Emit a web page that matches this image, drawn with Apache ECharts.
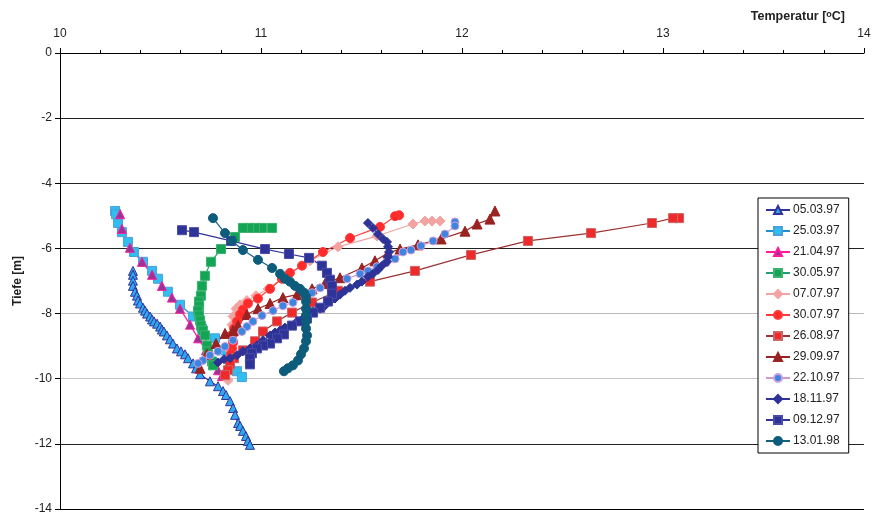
<!DOCTYPE html>
<html><head><meta charset="utf-8">
<script src="https://cdn.jsdelivr.net/npm/echarts@6/dist/echarts.min.js"></script>
<style>html,body{margin:0;padding:0;background:#fff}#c{width:874px;height:515px}</style>
</head><body><div id="c"></div>
<script>
// Temperature [°C], depth [m]
const s050397 = [[10.363,-6.69],[10.363,-6.81],[10.363,-6.99],[10.363,-7.15],[10.373,-7.33],[10.383,-7.45],[10.388,-7.60],[10.398,-7.69],[10.413,-7.82],[10.423,-7.91],[10.433,-8.00],[10.448,-8.09],[10.458,-8.18],[10.468,-8.24],[10.483,-8.31],[10.498,-8.40],[10.507,-8.49],[10.517,-8.55],[10.532,-8.67],[10.547,-8.79],[10.562,-8.92],[10.582,-9.07],[10.602,-9.16],[10.622,-9.25],[10.637,-9.37],[10.662,-9.53],[10.677,-9.68],[10.697,-9.86],[10.746,-10.08],[10.786,-10.23],[10.811,-10.38],[10.826,-10.50],[10.846,-10.69],[10.861,-10.90],[10.871,-11.11],[10.886,-11.36],[10.896,-11.45],[10.910,-11.60],[10.925,-11.76],[10.935,-11.91],[10.945,-12.03]];
const s250397 = [[10.274,-4.85],[10.279,-4.95],[10.289,-5.22],[10.308,-5.50],[10.338,-5.80],[10.368,-6.11],[10.413,-6.41],[10.458,-6.69],[10.488,-6.93],[10.537,-7.33],[10.597,-7.73],[10.662,-8.09],[10.706,-8.46],[10.771,-8.76],[10.806,-9.13],[10.846,-9.53],[10.881,-9.77],[10.905,-9.95]];
const s210497 = [[10.299,-4.95],[10.308,-5.40],[10.348,-5.98],[10.408,-6.41],[10.458,-6.81],[10.507,-7.15],[10.557,-7.51],[10.597,-7.85],[10.647,-8.34],[10.687,-8.76],[10.726,-9.13],[10.756,-9.44],[10.786,-9.74],[10.806,-9.92]];
const s300597 = [[11.055,-5.37],[11.005,-5.37],[10.970,-5.37],[10.940,-5.37],[10.910,-5.37],[10.871,-5.65],[10.801,-6.02],[10.751,-6.41],[10.721,-6.84],[10.706,-7.15],[10.701,-7.45],[10.692,-7.63],[10.692,-7.76],[10.687,-7.91],[10.692,-8.06],[10.697,-8.21],[10.701,-8.37],[10.711,-8.52],[10.721,-8.67],[10.731,-8.98],[10.736,-9.16],[10.756,-9.47],[10.761,-9.59]];
const s070797 = [[11.891,-5.16],[11.851,-5.16],[11.816,-5.16],[11.756,-5.25],[11.577,-5.62],[11.383,-5.95],[11.244,-6.38],[11.119,-6.87],[11.035,-7.24],[10.975,-7.45],[10.930,-7.60],[10.896,-7.73],[10.876,-7.85],[10.861,-8.09],[10.856,-8.34],[10.866,-8.58],[10.861,-8.82],[10.846,-9.13],[10.836,-9.44],[10.831,-9.74],[10.836,-10.05]];
const s300797 = [[11.687,-4.98],[11.667,-5.01],[11.592,-5.34],[11.443,-5.68],[11.308,-6.11],[11.204,-6.53],[11.144,-6.75],[11.104,-6.93],[11.045,-7.24],[10.985,-7.54],[10.935,-7.69],[10.910,-7.88],[10.896,-8.03],[10.881,-8.24],[10.866,-8.46],[10.856,-8.67],[10.861,-8.89],[10.856,-9.07],[10.851,-9.25],[10.846,-9.44]];
const s260897 = [[13.080,-5.07],[13.050,-5.07],[12.945,-5.22],[12.642,-5.53],[12.328,-5.77],[12.045,-6.20],[11.766,-6.69],[11.542,-7.02],[11.383,-7.30],[11.254,-7.66],[11.154,-7.97],[11.080,-8.24],[11.010,-8.55],[10.970,-8.85],[10.910,-9.13],[10.866,-9.37],[10.846,-9.56],[10.836,-9.74],[10.821,-9.89]];
const s290997 = [[12.164,-4.85],[12.139,-5.10],[12.075,-5.25],[12.015,-5.47],[11.896,-5.71],[11.781,-5.89],[11.692,-6.02],[11.632,-6.14],[11.567,-6.38],[11.502,-6.60],[11.393,-6.90],[11.318,-7.08],[11.254,-7.24],[11.179,-7.42],[11.109,-7.51],[11.045,-7.69],[10.985,-7.85],[10.930,-8.03],[10.886,-8.37],[10.861,-8.52],[10.821,-8.61],[10.776,-8.92],[10.731,-9.25],[10.697,-9.68]];
const s221097 = [[11.965,-5.19],[11.965,-5.31],[11.915,-5.56],[11.856,-5.77],[11.796,-5.92],[11.746,-6.05],[11.706,-6.11],[11.667,-6.32],[11.622,-6.44],[11.577,-6.56],[11.532,-6.69],[11.493,-6.78],[11.428,-6.93],[11.353,-7.08],[11.294,-7.21],[11.254,-7.36],[11.219,-7.48],[11.159,-7.66],[11.109,-7.76],[11.060,-7.91],[11.005,-8.06],[10.960,-8.24],[10.930,-8.40],[10.905,-8.55],[10.861,-8.82],[10.821,-9.01],[10.786,-9.16],[10.746,-9.28],[10.711,-9.44],[10.687,-9.53]];
const s181197 = [[11.532,-5.22],[11.557,-5.37],[11.582,-5.56],[11.607,-5.71],[11.627,-5.80],[11.632,-5.95],[11.637,-6.11],[11.632,-6.26],[11.627,-6.41],[11.602,-6.53],[11.582,-6.66],[11.557,-6.78],[11.532,-6.87],[11.502,-7.02],[11.478,-7.11],[11.443,-7.21],[11.418,-7.30],[11.393,-7.42],[11.368,-7.54],[11.343,-7.63],[11.318,-7.76],[11.294,-7.85],[11.259,-7.94],[11.234,-8.06],[11.209,-8.15],[11.179,-8.24],[11.144,-8.37],[11.119,-8.43],[11.095,-8.52],[11.070,-8.58],[11.045,-8.67],[11.010,-8.82],[10.980,-8.98],[10.945,-9.07],[10.910,-9.16],[10.881,-9.28],[10.846,-9.37],[10.816,-9.40],[10.786,-9.50]];
const s091297 = [[10.607,-5.44],[10.667,-5.50],[10.851,-5.77],[11.020,-6.02],[11.139,-6.17],[11.239,-6.29],[11.303,-6.53],[11.328,-6.75],[11.343,-6.96],[11.353,-7.15],[11.353,-7.39],[11.333,-7.63],[11.294,-7.82],[11.259,-7.97],[11.229,-8.15],[11.194,-8.24],[11.154,-8.37],[11.114,-8.64],[11.080,-8.76],[11.045,-8.92],[11.010,-8.98],[10.980,-9.07],[10.955,-9.22],[10.945,-9.37],[10.945,-9.56]];
const s130198 = [[10.761,-5.07],[10.821,-5.53],[10.856,-5.77],[10.910,-6.05],[10.985,-6.35],[11.055,-6.60],[11.095,-6.78],[11.119,-6.93],[11.144,-7.02],[11.169,-7.15],[11.194,-7.24],[11.214,-7.36],[11.224,-7.48],[11.224,-7.63],[11.224,-7.85],[11.224,-8.06],[11.224,-8.24],[11.224,-8.46],[11.229,-8.67],[11.224,-8.85],[11.214,-9.07],[11.199,-9.25],[11.184,-9.44],[11.159,-9.59],[11.134,-9.68],[11.114,-9.77]];

const xTicks = [10, 11, 12, 13, 14];
const yTicks = [0, -2, -4, -6, -8, -10, -12, -14];

function ser(name, data, symbol, line, fill, border, size) {
  return {
    name: name, type: 'line', data: data, symbol: symbol, symbolSize: size || 8,
    showAllSymbol: true,
    lineStyle: { color: line, width: 1.2 },
    itemStyle: { color: fill, borderColor: border, borderWidth: 1 },
    emphasis: { disabled: true }, animation: false
  };
}
const series = [
  ser('05.03.97', s050397, 'triangle', '#333399', '#2fa8f0', '#333399', 9),
  ser('25.03.97', s250397, 'rect', '#1f8fd0', '#30bdf0', '#4aa0d8', 9),
  ser('21.04.97', s210497, 'triangle', '#ff1a9a', '#993399', '#ff1a9a', 9),
  ser('30.05.97', s300597, 'rect', '#1fa070', '#12a555', '#3fb070', 9),
  ser('07.07.97', s070797, 'diamond', '#f4a3a3', '#f4a3a3', '#f4a3a3', 10),
  ser('30.07.97', s300797, 'circle', '#ff3b3b', '#ff2a2a', '#ff3b3b', 9),
  ser('26.08.97', s260897, 'rect', '#993333', '#ee2a2a', '#cc6666', 9),
  ser('29.09.97', s290997, 'triangle', '#992222', '#992222', '#992222', 10),
  ser('22.10.97', s221097, 'circle', '#cc99cc', '#3d86e0', '#cca0dd', 8),
  ser('18.11.97', s181197, 'diamond', '#333399', '#2e3398', '#2e3398', 9),
  ser('09.12.97', s091297, 'rect', '#333399', '#2e3398', '#4a4aa8', 9),
  ser('13.01.98', s130198, 'circle', '#16607f', '#0e5c7c', '#0e5c7c', 9)
];

const chart = echarts.init(document.getElementById('c'), null, { renderer: 'canvas' });
chart.setOption({
  backgroundColor: '#fff',
  animation: false,
  textStyle: { fontFamily: 'Liberation Sans, Arial, sans-serif' },
  grid: { left: 60, right: 10, top: 53, bottom: 3, containLabel: false },
  xAxis: {
    type: 'value', position: 'top', min: xTicks[0], max: xTicks[xTicks.length - 1], interval: 1,
    axisLine: { show: true, lineStyle: { color: '#000', width: 1 } },
    axisTick: { show: true, inside: false, length: 5, lineStyle: { color: '#000' } },
    minorTick: { show: true, splitNumber: 5, length: 3, lineStyle: { color: '#000' } },
    axisLabel: { color: '#222', fontSize: 12, margin: 13 },
    splitLine: { show: false }
  },
  yAxis: {
    type: 'value', min: yTicks[yTicks.length - 1], max: yTicks[0], interval: 2,
    name: 'Tiefe [m]', nameLocation: 'middle', nameGap: 36,
    nameTextStyle: { fontWeight: 'bold', fontSize: 12, color: '#222' },
    axisLine: { show: true, onZero: false, lineStyle: { color: '#000', width: 1 } },
    axisTick: { show: true, length: 5, lineStyle: { color: '#000' } },
    axisLabel: { color: '#222', fontSize: 12, margin: 8 },
    splitLine: { show: true, lineStyle: { color: ['#000', '#222', '#c4c4c4', '#b8b8b8', '#222', '#222', '#222', '#222'], width: 1 } }
  },
  legend: {
    orient: 'vertical', left: 758, top: 198,
    backgroundColor: '#fff', borderColor: '#000', borderWidth: 1,
    padding: [6, 9, 6, 7], itemWidth: 24, itemHeight: 10, itemGap: 9,
    textStyle: { fontSize: 12, color: '#222', padding: [0, 0, 0, -2] },
    data: series.map(s => s.name)
  },
  graphic: [{
    type: 'text', right: 29, top: 10,
    style: {
      text: 'Temperatur [{s|o}C]',
      rich: { s: { fontSize: 9, fontWeight: 'bold', verticalAlign: 'top', padding: [0, 0, 5, 0] } },
      font: 'bold 12.5px "Liberation Sans", Arial, sans-serif', fill: '#222'
    }
  }],
  series: series
});
</script></body></html>
